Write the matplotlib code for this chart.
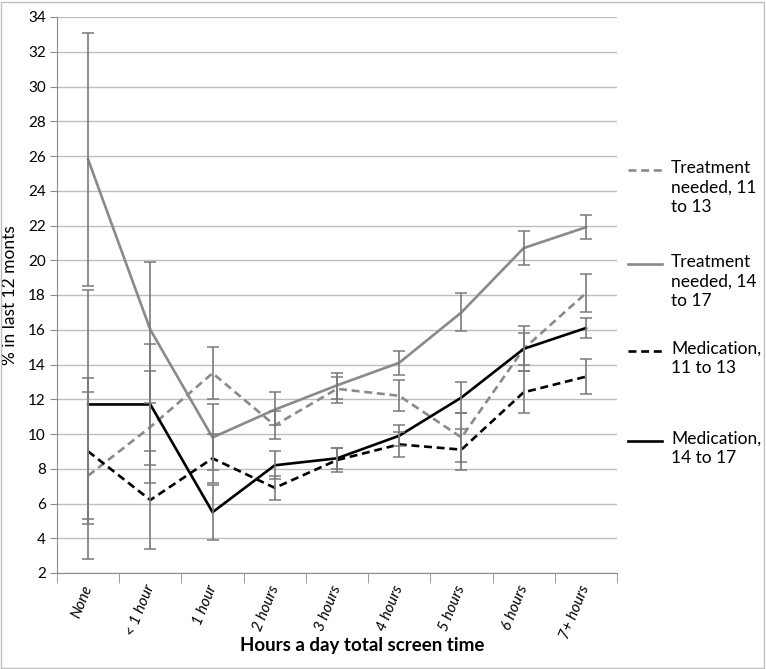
import numpy as np
import matplotlib.pyplot as plt
from matplotlib.lines import Line2D
from matplotlib.patches import Rectangle

plt.rcParams['font.family'] = ['Lato', 'DejaVu Sans']

categories = ['None', '< 1 hour', '1 hour', '2 hours', '3 hours',
              '4 hours', '5 hours', '6 hours', '7+ hours']

# values and lower / upper bounds of the error bars
treat_11_13 = [7.6, 10.4, 13.5, 10.5, 12.6, 12.2, 9.8, 14.9, 18.1]
treat_11_13_lo = [2.8, 7.2, 12.0, 9.7, 11.8, 11.3, 8.4, 14.0, 17.0]
treat_11_13_hi = [12.4, 13.6, 15.0, 11.3, 13.3, 13.1, 11.2, 15.8, 19.2]

treat_14_17 = [25.8, 16.0, 9.8, 11.4, 12.8, 14.1, 17.0, 20.7, 21.9]
treat_14_17_lo = [18.5, 11.8, 7.9, 10.5, 12.0, 13.4, 15.9, 19.7, 21.2]
treat_14_17_hi = [33.1, 19.9, 11.7, 12.4, 13.5, 14.8, 18.1, 21.7, 22.6]

med_11_13 = [9.0, 6.2, 8.6, 6.9, 8.5, 9.4, 9.1, 12.4, 13.3]
med_11_13_lo = [4.8, 3.4, 7.2, 6.2, 7.8, 8.7, 7.9, 11.2, 12.3]
med_11_13_hi = [13.2, 9.0, 10.0, 7.6, 9.2, 10.1, 10.3, 13.6, 14.3]

med_14_17 = [11.7, 11.7, 5.5, 8.2, 8.6, 9.9, 12.1, 14.9, 16.1]
med_14_17_lo = [5.1, 8.2, 3.9, 7.4, 8.0, 9.3, 11.2, 13.6, 15.5]
med_14_17_hi = [18.3, 15.2, 7.05, 9.0, 9.2, 10.5, 13.0, 16.2, 16.7]

labels = ['Treatment\nneeded, 11\nto 13', 'Treatment\nneeded, 14\nto 17',
          'Medication,\n11 to 13', 'Medication,\n14 to 17']

GRAY = '#8a8a8a'
ERR = '#7a7a7a'
DASH = (3.0, 1.8)

fig = plt.figure(figsize=(7.66, 6.69), dpi=100)
ax = fig.add_axes([57/766, 1-573/669, 560/766, 556/669])

x = np.arange(len(categories))
series = [
    (treat_11_13, treat_11_13_lo, treat_11_13_hi, GRAY, True),
    (treat_14_17, treat_14_17_lo, treat_14_17_hi, GRAY, False),
    (med_11_13, med_11_13_lo, med_11_13_hi, 'black', True),
    (med_14_17, med_14_17_lo, med_14_17_hi, 'black', False),
]
handles = []
for vals, lo, hi, col, dashed in series:
    vals = np.array(vals)
    yerr = [vals - np.array(lo), np.array(hi) - vals]
    ln, = ax.plot(x, vals, color=col, lw=1.9, zorder=3)
    if dashed:
        ln.set_dashes(DASH)
    ax.errorbar(x, vals, yerr=yerr, fmt='none', ecolor=ERR, elinewidth=1.2,
                capsize=4, capthick=1.1, zorder=4)
    handles.append(ln)

ax.set_xlim(-0.5, len(categories) - 0.5)
ax.set_ylim(2, 34)
ax.set_yticks(np.arange(2, 35, 2))
ax.grid(axis='y', color='#bdbdbd', lw=1)
ax.set_axisbelow(True)
for s in ['top', 'right']:
    ax.spines[s].set_visible(False)
for s in ['left', 'bottom']:
    ax.spines[s].set_color('#8c8c8c')
ax.tick_params(axis='y', length=5, color='#8c8c8c', labelsize=11, pad=3)

ax.set_xticks(x)
ax.set_xticklabels(categories, rotation=68, ha='right', va='center',
                   rotation_mode='anchor', fontsize=11, style='italic')
ax.tick_params(axis='x', length=0, pad=9)
ax.set_xticks(np.arange(-0.5, len(categories)), minor=True)
ax.tick_params(axis='x', which='minor', length=7, color='#8c8c8c')

ax.set_ylabel('% in last 12 monts', fontsize=12.5)
ax.yaxis.set_label_coords(-39/560, 0.5)
fig.text(362/766, 1-646/669, 'Hours a day total screen time', fontsize=13.5,
         fontweight='bold', ha='center', va='center')

# legend on the right, handle aligned with the first line of text
leg_y = [170, 264, 351, 441]
for ln, lab, yy in zip(handles, labels, leg_y):
    fy = 1 - yy/669
    h = Line2D([628/766, 662/766], [fy, fy], transform=fig.transFigure,
               color=ln.get_color(), lw=1.9)
    if ln.get_linestyle() != '-':
        h.set_dashes(DASH)
    fig.add_artist(h)
    fig.text(671/766, fy + 10/669, lab, fontsize=12.5, va='top', ha='left',
             linespacing=1.25)

fig.add_artist(Rectangle((1/766, 1/669), 763/766, 666/669,
                         transform=fig.transFigure, fill=False,
                         edgecolor='#bfbfbf', lw=1))

fig.savefig('out.png', dpi=100)
